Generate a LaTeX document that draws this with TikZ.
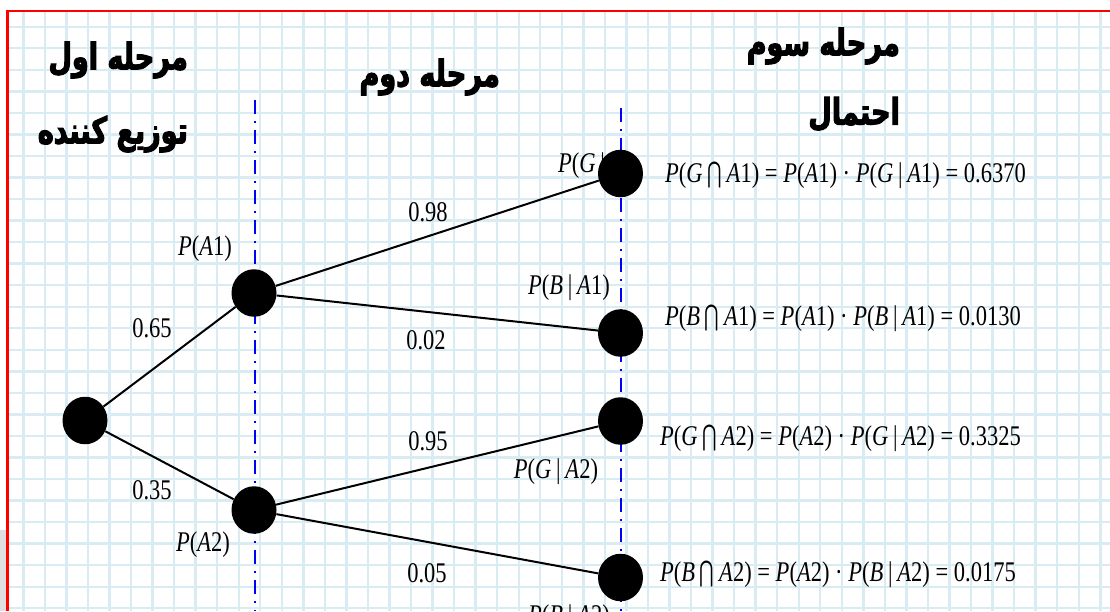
\documentclass[tikz,border=0pt]{standalone}
\usepackage{fontspec}
\usepackage{graphicx}
\setmainfont{Liberation Serif}[FakeStretch=0.79]
\newfontfamily\fa{DejaVu Sans}[Script=Arabic, BoldFeatures={FakeBold=3}, FakeStretch=0.74]
\newfontfamily\symf{DejaVu Sans}[FakeStretch=0.62]
\TeXXeTstate=1
\usetikzlibrary{shapes.geometric}
\definecolor{gridblue}{RGB}{218,236,243}
\definecolor{axisblue}{RGB}{0,0,255}
\definecolor{frame}{RGB}{255,0,0}
\newcommand{\mcap}{\,{\symf ⋂}\,}
\newcommand{\iv}[1]{\textit{#1}}
\tikzset{
  gridline/.style={draw=gridblue, line width=2.4pt},
  axisline/.style={draw=axisblue, line width=2pt, dash pattern=on 14pt off 7pt on 2pt off 7pt},
  branch/.style={draw=black, line width=2pt},
  ball/.style={ellipse, fill=black, inner sep=0pt, minimum width=45pt, minimum height=47.5pt},
  lab/.style={inner sep=0pt, font=\fontsize{28.5}{30}\selectfont},
  eqn/.style={inner sep=0pt, anchor=west, font=\fontsize{28.5}{30}\selectfont},
  head/.style={inner sep=0pt, anchor=east, font=\fa\bfseries\fontsize{36.5}{40}\selectfont}
}
\begin{document}
\begin{tikzpicture}[x=1pt, y=-1pt]
\useasboundingbox (0,0) rectangle (1110,611);
\clip (0,0) rectangle (1110,611);
\fill[white] (0,0) rectangle (1110,611);
\fill[gray!25] (0,530) rectangle (6,611);
% grid
\begin{scope}
\clip (9,12.5) rectangle (1110,611);
\foreach \i in {0,...,50} \draw[gridline] ({23.3+21.54*\i},12) -- ({23.3+21.54*\i},611);
\foreach \j in {0,...,27} \draw[gridline] (9,{26.7+21.54*\j}) -- (1110,{26.7+21.54*\j});
\end{scope}
% frame
\draw[frame, line width=2.5pt] (7.7,611) -- (7.7,11) -- (1110,11);
% stage axes
\coordinate (v1t) at (255,100);
\coordinate (v1b) at (255,611);
\coordinate (v2t) at (621,108);
\coordinate (v2b) at (621,611);
\draw[axisline] (v1t) -- (v1b);
\draw[axisline] (v2t) -- (v2b);
% headers
\node[head] (h1) at (188,60) {\beginR مرحله اول\endR};
\node[head] (h1b) at (188,134) {\beginR توزیع کننده\endR};
\node[head] (h2) at (500,77) {\beginR مرحله دوم\endR};
\node[head] (h3) at (900,46) {\beginR مرحله سوم\endR};
\node[head] (h3b) at (900,114) {\beginR احتمال\endR};
% labels
\node[lab] (pa1) at (205,249) {\iv{P}(\iv{A}1)};
\node[lab] (pa2) at (203,545) {\iv{P}(\iv{A}2)};
\node[lab] (p065) at (152,328) {0.65};
\node[lab] (p035) at (152,490) {0.35};
\node[lab] (p098) at (428,212) {0.98};
\node[lab] (p002) at (426,340) {0.02};
\node[lab] (p095) at (428,441) {0.95};
\node[lab] (p005) at (427,573) {0.05};
\begin{scope}
\clip (540,140) rectangle (606,200);
\node[lab, anchor=west] (pga1) at (558,166) {\iv{P}(\iv{G}\,|\,\iv{A}1)};
\end{scope}
\node[lab] (pba1) at (569,288) {\iv{P}(\iv{B}\,|\,\iv{A}1)};
\node[lab] (pga2) at (556,472) {\iv{P}(\iv{G}\,|\,\iv{A}2)};
\node[lab] (pba2) at (569,618) {\iv{P}(\iv{B}\,|\,\iv{A}2)};
% nodes
\node[ball] (root) at (85,420.5) {};
\node[ball] (a1) at (254,293) {};
\node[ball] (a2) at (254,510) {};
\node[ball] (ga1) at (620.5,173.5) {};
\node[ball] (ba1) at (620.5,333) {};
\node[ball] (ga2) at (620.5,421) {};
\node[ball] (ba2) at (620.5,577.5) {};
% branches
\draw[branch] (root) -- (a1);
\draw[branch] (root) -- (a2);
\draw[branch] (a1) -- (ga1);
\draw[branch] (a1) -- (ba1);
\draw[branch] (a2) -- (ga2);
\draw[branch] (a2) -- (ba2);
% equations
\node[eqn] (e1) at (665,175) {\iv{P}(\iv{G}\mcap\iv{A}1) = \iv{P}(\iv{A}1) · \iv{P}(\iv{G}\,|\,\iv{A}1) = 0.6370};
\node[eqn] (e2) at (665,318) {\iv{P}(\iv{B}\mcap\iv{A}1) = \iv{P}(\iv{A}1) · \iv{P}(\iv{B}\,|\,\iv{A}1) = 0.0130};
\node[eqn] (e3) at (660,438) {\iv{P}(\iv{G}\mcap\iv{A}2) = \iv{P}(\iv{A}2) · \iv{P}(\iv{G}\,|\,\iv{A}2) = 0.3325};
\node[eqn] (e4) at (660,574) {\iv{P}(\iv{B}\mcap\iv{A}2) = \iv{P}(\iv{A}2) · \iv{P}(\iv{B}\,|\,\iv{A}2) = 0.0175};
\end{tikzpicture}
\end{document}
